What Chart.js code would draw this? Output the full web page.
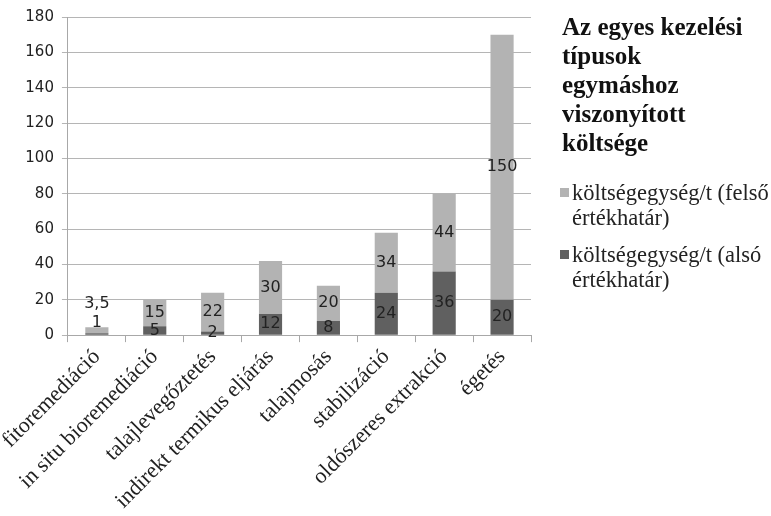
<!DOCTYPE html>
<html>
<head>
<meta charset="utf-8">
<script src="https://cdn.jsdelivr.net/npm/chart.js@4"></script>
<style>
  body { margin: 0; background: #fff; }
  #wrap { position: relative; width: 771px; height: 516px; overflow: hidden; }
  #title { position: absolute; left: 562px; top: 12px; width: 209px; font: bold 25px/29px "Liberation Serif", serif; color: #111; }
  #legend { position: absolute; left: 560px; top: 180px; width: 215px; font: 22.5px/25px "Liberation Serif", serif; color: #222; white-space: nowrap; }
  .item { display: flex; margin-bottom: 12px; }
  .box { width: 9px; height: 9px; margin: 8px 3px 0 0; flex: none; }
</style>
</head>
<body>
<div id="wrap">
  <canvas id="myChart" width="771" height="516"></canvas>
  <div id="title">Az egyes kezelési<br>típusok<br>egymáshoz<br>viszonyított<br>költsége</div>
  <div id="legend"></div>
</div>
<script>
const categories = ["fitoremediáció","in situ bioremediáció","talajlevegőztetés","indirekt termikus eljárás","talajmosás","stabilizáció","oldószeres extrakció","égetés"];
const lowerValues = [1, 5, 2, 12, 8, 24, 36, 20];
const upperValues = [3.5, 15, 22, 30, 20, 34, 44, 150];
const seriesNames = ["költségegység/t (alsó értékhatár)", "költségegység/t (felső értékhatár)"];
const legendLines = [["költségegység/t (alsó", "értékhatár)"], ["költségegység/t (felső", "értékhatár)"]];
const seriesColors = ["#606060", "#b3b3b3"];

// legend, felső first like in the original
let legendHtml = "";
for (let i = seriesNames.length - 1; i >= 0; i--) {
    legendHtml += `<div class="item"><span class="box" style="background:${seriesColors[i]}"></span><span>${legendLines[i].join("<br>")}</span></div>`;
}
document.getElementById("legend").innerHTML = legendHtml;

// values in the middle of each segment; a very short stack gets its labels lifted above it
const segmentLabels = {
    id: "segmentLabels",
    afterDatasetsDraw(chart) {
        const ctx = chart.ctx;
        ctx.save();
        ctx.font = "16px 'DejaVu Sans', sans-serif";
        ctx.fillStyle = "#222";
        ctx.textAlign = "center";
        ctx.textBaseline = "middle";
        const n = chart.data.labels.length;
        const last = chart.data.datasets.length - 1;
        for (let j = 0; j < n; j++) {
            const first = chart.getDatasetMeta(0).data[j];
            const top = chart.getDatasetMeta(last).data[j];
            const lift = first.base - top.y < 12;
            chart.data.datasets.forEach((ds, i) => {
                const bar = chart.getDatasetMeta(i).data[j];
                let y = (bar.y + bar.base) / 2;
                if (lift) y = first.base - 12 - i * 19;
                ctx.fillText(ds.data[j].toLocaleString("hu-HU"), bar.x, y);
            });
        }
        ctx.restore();
    }
};

new Chart("myChart", {
    type: "bar",
    data: {
        labels: categories,
        datasets: [
            { label: seriesNames[0], data: lowerValues, backgroundColor: seriesColors[0], categoryPercentage: 1, barPercentage: 0.4 },
            { label: seriesNames[1], data: upperValues, backgroundColor: seriesColors[1], categoryPercentage: 1, barPercentage: 0.4 }
        ]
    },
    options: {
        responsive: false,
        animation: false,
        layout: { padding: { left: 16, right: 240, top: 6, bottom: 0 } },
        plugins: { legend: { display: false }, title: { display: false }, tooltip: { enabled: false } },
        scales: {
            x: {
                stacked: true,
                offset: true,
                grid: { display: true, drawOnChartArea: false, offset: true, tickLength: 7, color: "#a8a8a8" },
                border: { color: "#a8a8a8" },
                ticks: {
                    minRotation: 45, maxRotation: 45, padding: 2,
                    color: "#222",
                    font: { family: "'Liberation Serif', serif", size: 22 }
                }
            },
            y: {
                stacked: true,
                min: 0, max: 180,
                ticks: { stepSize: 20, color: "#222", padding: 8, font: { family: "'DejaVu Sans', sans-serif", size: 15 } },
                grid: { color: "#b5b5b5", tickLength: 6 },
                border: { color: "#a8a8a8" }
            }
        }
    },
    plugins: [segmentLabels]
});
</script>
</body>
</html>
